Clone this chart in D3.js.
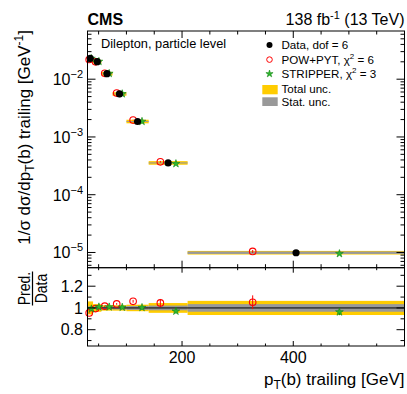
<!DOCTYPE html>
<html><head><meta charset="utf-8">
<script src="https://cdn.jsdelivr.net/npm/d3@7"></script>
<style>
body{margin:0;background:#fff}
svg{display:block;font-family:"Liberation Sans",Arial,Helvetica,sans-serif}
</style>
</head><body>
<svg id="c" width="407" height="394"></svg>
<script>
// ---------------- data ----------------
const binEdges   = [30, 40, 55, 75, 100, 140, 210, 600];
const dataVals   = [0.0230, 0.0201, 0.01245, 0.00555, 0.00185, 3.55e-4, 9.9e-6];
const powVals    = [0.02194, 0.01998, 0.01265, 0.005755, 0.001963, 3.713e-4, 1.042e-5];
const stripVals  = [0.02279, 0.02028, 0.01256, 0.005583, 0.001857, 3.444e-4, 9.53e-6];
const totUnc     = [0.06, 0.035, 0.025, 0.025, 0.03, 0.045, 0.065];   // relative
const statUnc    = [0.015, 0.012, 0.012, 0.014, 0.018, 0.022, 0.035]; // relative
const powUnc     = [0.005, 0.005, 0.006, 0.008, 0.012, 0.035, 0.06];  // relative
const stripUnc   = [0.005, 0.005, 0.006, 0.008, 0.01, 0.02, 0.03];    // relative
const xMajorTicks = [200, 400];
const xMinorTicks = [50,100,150,250,300,350,450,500,550];
const yDecades    = [-5, -4, -3, -2];
const ratioMajor  = [0.8, 1.0, 1.2];
const ratioMinor  = [0.7, 0.9, 1.1, 1.3];
const legendLabels = ["Data, dof = 6", "POW+PYT, χ", "STRIPPER, χ", "Total unc.", "Stat. unc."];
const legendChi2   = [null, "6", "3", null, null];

// ---------------- layout ----------------
const L = 87.5, R = 404.5, T = 31, M = 267.7, B = 346;
const YELLOW = "#ffcc00", GREY = "#999999", RED = "#ff0000", GREEN = "#2fb52f", GREEN_D = "#118811";

const svg = d3.select("#c");
const x  = d3.scaleLinear().domain([30, 600]).range([L, R]);
const y  = d3.scaleLog().domain([5.45e-6, 0.0683]).range([M, T]);
const yr = d3.scaleLinear().domain([0.65, 1.37]).range([B, M]);

const bins = dataVals.map((v, i) => {
  const lo = binEdges[i], hi = binEdges[i+1], w = hi - lo;
  return {i, lo, hi, c: (lo+hi)/2, w, v, pow: powVals[i], strip: stripVals[i],
          tot: totUnc[i], stat: statUnc[i], pu: powUnc[i], su: stripUnc[i]};
});

const star = d3.symbol().type(d3.symbolStar).size(19);
const starS = d3.symbol().type(d3.symbolStar).size(16);

// ---------------- upper panel ----------------
const up = svg.append("g");
bins.forEach(b => {
  let y0 = y(b.v*(1+b.tot)), y1 = y(b.v*(1-b.tot));
  let h = Math.max(y1-y0, 3.6), cy = y(b.v);
  up.append("rect").attr("x", x(b.lo)).attr("width", x(b.hi)-x(b.lo))
    .attr("y", cy - h/2).attr("height", h).attr("fill", YELLOW);
  let s0 = y(b.v*(1+b.stat)), s1 = y(b.v*(1-b.stat));
  let hs = Math.max(s1-s0, b.w > 100 ? 2.4 : 0.8);
  up.append("rect").attr("x", x(b.lo)).attr("width", x(b.hi)-x(b.lo))
    .attr("y", cy - hs/2).attr("height", hs).attr("fill", GREY);
});
bins.forEach(b => {
  const px = x(b.c - 0.2*b.w);
  up.append("line").attr("x1", px).attr("x2", px)
    .attr("y1", y(b.pow*(1+b.pu))).attr("y2", y(b.pow*(1-b.pu)))
    .attr("stroke", RED).attr("stroke-width", 1);
  up.append("circle").attr("cx", px).attr("cy", y(b.pow)).attr("r", 3.3)
    .attr("fill", "none").attr("stroke", RED).attr("stroke-width", 1.1);
});
bins.forEach(b => {
  const px = x(b.c + 0.2*b.w);
  up.append("path").attr("d", star()).attr("transform", `translate(${px},${y(b.strip)})`)
    .attr("fill", GREEN).attr("stroke", GREEN_D).attr("stroke-width", 0.6);
});
bins.forEach(b => {
  up.append("circle").attr("cx", x(b.c)).attr("cy", y(b.v)).attr("r", 3.6).attr("fill", "#000");
});

svg.append("rect").attr("x", L).attr("y", T).attr("width", R-L).attr("height", M-T)
  .attr("fill", "none").attr("stroke", "#000").attr("stroke-width", 1);
const tk = svg.append("g").attr("stroke", "#000").attr("stroke-width", 1);
function xt(v, len, yTop, yBot, lenB) {
  tk.append("line").attr("x1", x(v)).attr("x2", x(v)).attr("y1", yTop).attr("y2", yTop+len);
  tk.append("line").attr("x1", x(v)).attr("x2", x(v)).attr("y1", yBot).attr("y2", yBot-lenB);
}
xMajorTicks.forEach(v => xt(v, 7, T, M, 7));
xMinorTicks.forEach(v => xt(v, 3.5, T, M, 3.5));
yDecades.concat([-1, -6]).forEach(e => {
  for (let m = 1; m <= 9; m++) {
    const v = m*Math.pow(10, e);
    if (v < y.domain()[0] || v > y.domain()[1]) continue;
    const len = m === 1 ? 8 : 4;
    tk.append("line").attr("x1", L).attr("x2", L+len).attr("y1", y(v)).attr("y2", y(v));
    tk.append("line").attr("x1", R).attr("x2", R-len).attr("y1", y(v)).attr("y2", y(v));
  }
});
yDecades.forEach(e => {
  const t = svg.append("text").attr("x", 83).attr("y", y(Math.pow(10, e)) + 6)
    .attr("text-anchor", "end").attr("font-size", 16);
  t.append("tspan").text("10");
  t.append("tspan").attr("font-size", 11).attr("dy", -7).text("−" + Math.abs(e));
});

// ---------------- ratio panel ----------------
const rp = svg.append("g");
bins.forEach(b => {
  rp.append("rect").attr("x", x(b.lo)).attr("width", x(b.hi)-x(b.lo))
    .attr("y", yr(1+b.tot)).attr("height", yr(1-b.tot)-yr(1+b.tot)).attr("fill", YELLOW);
});
bins.forEach(b => {
  rp.append("rect").attr("x", x(b.lo)).attr("width", x(b.hi)-x(b.lo))
    .attr("y", yr(1+b.stat)).attr("height", yr(1-b.stat)-yr(1+b.stat)).attr("fill", GREY);
});
rp.append("line").attr("x1", L).attr("x2", R).attr("y1", yr(1)).attr("y2", yr(1))
  .attr("stroke", "#000").attr("stroke-width", 1);
bins.forEach(b => {
  const r = b.pow / b.v, px = x(b.c - 0.2*b.w);
  rp.append("line").attr("x1", px).attr("x2", px)
    .attr("y1", yr(r*(1+b.pu))).attr("y2", yr(r*(1-b.pu))).attr("stroke", RED).attr("stroke-width", 1);
  rp.append("circle").attr("cx", px).attr("cy", yr(r)).attr("r", 3.3)
    .attr("fill", "none").attr("stroke", RED).attr("stroke-width", 1.1);
});
bins.forEach(b => {
  const r = b.strip / b.v, px = x(b.c + 0.2*b.w);
  rp.append("line").attr("x1", px).attr("x2", px)
    .attr("y1", yr(r*(1+b.su))).attr("y2", yr(r*(1-b.su))).attr("stroke", GREEN_D).attr("stroke-width", 1);
  rp.append("path").attr("d", star()).attr("transform", `translate(${px},${yr(r)})`)
    .attr("fill", GREEN).attr("stroke", GREEN_D).attr("stroke-width", 0.6);
});
svg.append("rect").attr("x", L).attr("y", M).attr("width", R-L).attr("height", B-M)
  .attr("fill", "none").attr("stroke", "#000").attr("stroke-width", 1);
xMajorTicks.forEach(v => xt(v, 5, M, B, 5));
xMinorTicks.forEach(v => xt(v, 2.5, M, B, 2.5));
ratioMajor.forEach(v => {
  tk.append("line").attr("x1", L).attr("x2", L+8).attr("y1", yr(v)).attr("y2", yr(v));
  tk.append("line").attr("x1", R).attr("x2", R-8).attr("y1", yr(v)).attr("y2", yr(v));
  svg.append("text").attr("x", 83).attr("y", yr(v)+5.8).attr("text-anchor", "end")
    .attr("font-size", 16).text(v === 1 ? "1" : d3.format(".1f")(v));
});
ratioMinor.forEach(v => {
  tk.append("line").attr("x1", L).attr("x2", L+4).attr("y1", yr(v)).attr("y2", yr(v));
  tk.append("line").attr("x1", R).attr("x2", R-4).attr("y1", yr(v)).attr("y2", yr(v));
});
tk.raise();

xMajorTicks.forEach(v => {
  svg.append("text").attr("x", x(v)).attr("y", 363).attr("text-anchor", "middle")
    .attr("font-size", 16).text(v);
});

// ---------------- titles ----------------
const xt2 = svg.append("text").attr("x", R).attr("y", 385).attr("text-anchor", "end").attr("font-size", 17);
xt2.append("tspan").text("p");
xt2.append("tspan").attr("font-size", 12).attr("dy", 4).text("T");
xt2.append("tspan").attr("dy", -4).text("(b) trailing [GeV]");

const yt = svg.append("text").attr("transform", "translate(30,30) rotate(-90)")
  .attr("text-anchor", "end").attr("font-size", 17);
yt.append("tspan").text("1/σ dσ/dp");
yt.append("tspan").attr("font-size", 12).attr("dy", 4).text("T");
yt.append("tspan").attr("dy", -4).text("(b) trailing [GeV");
yt.append("tspan").attr("font-size", 12).attr("dy", -7).text("-1");
yt.append("tspan").attr("dy", 7).text("]");

const rl = svg.append("g").attr("transform", "translate(32.5,288.5) rotate(-90) scale(1,1.22)");
rl.append("text").attr("text-anchor", "middle").attr("y", -2.3).attr("font-size", 14).text("Pred.");
rl.append("line").attr("x1", -17).attr("x2", 17).attr("y1", 0).attr("y2", 0)
  .attr("stroke", "#000").attr("stroke-width", 1);
rl.append("text").attr("text-anchor", "middle").attr("y", 12).attr("font-size", 14).text("Data");

svg.append("text").attr("x", L).attr("y", 25).attr("font-size", 16).attr("font-weight", "bold").text("CMS");
const lumi = svg.append("text").attr("x", R).attr("y", 25).attr("text-anchor", "end").attr("font-size", 16);
lumi.append("tspan").text("138 fb");
lumi.append("tspan").attr("font-size", 11).attr("dy", -6).text("-1");
lumi.append("tspan").attr("dy", 6).text(" (13 TeV)");

svg.append("text").attr("x", 101).attr("y", 48).attr("font-size", 12.8).text("Dilepton, particle level");

// ---------------- legend ----------------
const lgBase = [49, 63.6, 77.8, 92.6, 106];
const lgX = 269.5, lgT = 281.5;
legendLabels.forEach((lab, i) => {
  const t = svg.append("text").attr("x", lgT).attr("y", lgBase[i]).attr("font-size", 11.6);
  t.append("tspan").text(lab);
  if (legendChi2[i]) {
    t.append("tspan").attr("font-size", 8).attr("dy", -5).text("2");
    t.append("tspan").attr("dy", 5).text(" = " + legendChi2[i]);
  }
});
svg.append("circle").attr("cx", lgX).attr("cy", lgBase[0]-4).attr("r", 3).attr("fill", "#000");
svg.append("circle").attr("cx", lgX).attr("cy", lgBase[1]-4).attr("r", 2.8)
  .attr("fill", "none").attr("stroke", RED).attr("stroke-width", 1);
svg.append("path").attr("d", starS()).attr("transform", `translate(${lgX},${lgBase[2]-4})`)
  .attr("fill", GREEN).attr("stroke", GREEN_D).attr("stroke-width", 0.6);
svg.append("rect").attr("x", 262.3).attr("y", 85).attr("width", 15.4).attr("height", 9.3).attr("fill", YELLOW);
svg.append("rect").attr("x", 262.3).attr("y", 97.3).attr("width", 15.4).attr("height", 8.7).attr("fill", GREY);
</script>
</body></html>
